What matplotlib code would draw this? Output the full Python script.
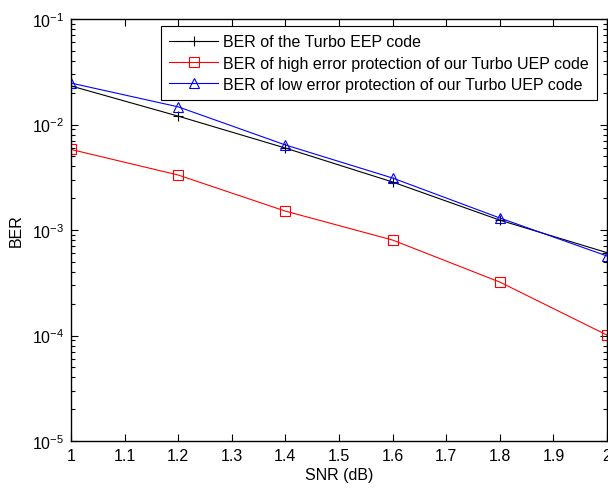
import matplotlib
matplotlib.use("Agg")
import matplotlib.pyplot as plt
from matplotlib.ticker import LogLocator, FormatStrFormatter, NullFormatter

plt.rcParams["font.family"] = ["Liberation Sans", "DejaVu Sans"]
plt.rcParams["mathtext.default"] = "regular"

snr = [1.0, 1.2, 1.4, 1.6, 1.8, 2.0]
ber_eep = [0.0232, 0.0120, 0.00598, 0.00285, 0.00124, 0.00061]
ber_high = [0.00580, 0.00332, 0.00151, 0.000803, 0.000321, 0.000101]
ber_low = [0.0247, 0.0147, 0.00640, 0.00311, 0.00130, 0.000567]

labels = [
    "BER of the Turbo EEP code",
    "BER of high error protection of our Turbo UEP code",
    "BER of low error protection of our Turbo UEP code",
]
xticks = [1.0, 1.1, 1.2, 1.3, 1.4, 1.5, 1.6, 1.7, 1.8, 1.9, 2.0]

fs = 11.5
fig = plt.figure(figsize=(6.08, 4.89), dpi=100)
ax = fig.add_axes([71 / 608, 1 - 442 / 489, 536 / 608, 422 / 489])

ax.semilogy(snr, ber_eep, color="black", lw=0.8, marker="+", ms=7, mew=0.8, label=labels[0])
ax.semilogy(snr, ber_high, color="red", lw=0.8, marker="s", ms=7, mfc="none", mew=0.8, label=labels[1])
ax.semilogy(snr, ber_low, color="blue", lw=0.8, marker="^", ms=7, mfc="none", mew=0.8, label=labels[2])

ax.set_xlim(1, 2)
ax.set_ylim(1e-5, 1e-1)
ax.set_xticks(xticks)
ax.xaxis.set_major_formatter(FormatStrFormatter("%g"))
ax.yaxis.set_major_locator(LogLocator(base=10, numticks=10))
ax.yaxis.set_minor_locator(LogLocator(base=10, subs=range(2, 10), numticks=10))
ax.yaxis.set_minor_formatter(NullFormatter())

ax.tick_params(which="both", direction="in", top=True, right=True, labelsize=fs, width=0.8, pad=5)
ax.tick_params(which="major", length=5)
ax.tick_params(which="minor", length=3)
for s in ax.spines.values():
    s.set_linewidth(1.0)

ax.set_xlabel("SNR (dB)", fontsize=fs, labelpad=3)
ax.set_ylabel("BER", fontsize=fs, labelpad=6)

leg = ax.legend(loc="upper right", bbox_to_anchor=(0.981, 0.983), borderaxespad=0,
                fontsize=fs, handlelength=3.1, handletextpad=0.3, labelspacing=0.4,
                numpoints=1, fancybox=False, framealpha=1, edgecolor="black", borderpad=0.5)
leg.get_frame().set_linewidth(0.8)

fig.savefig("out.png", dpi=100)
